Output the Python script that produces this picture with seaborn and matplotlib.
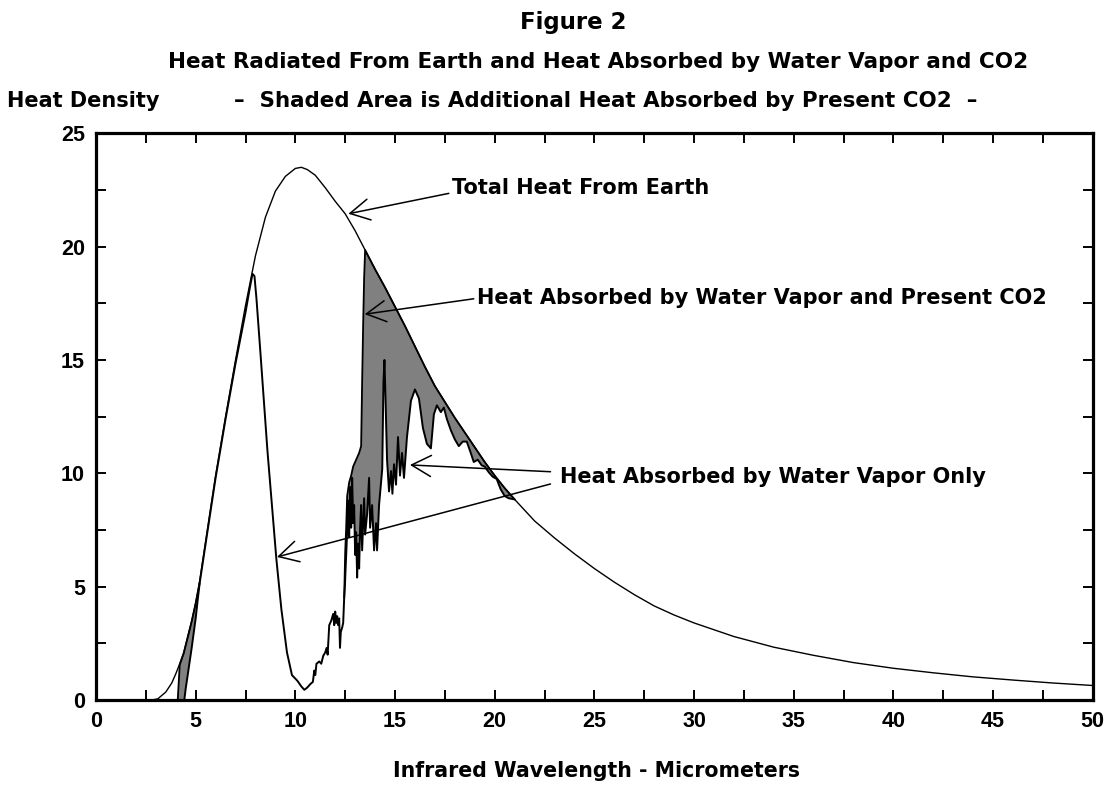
import numpy as np
import matplotlib
matplotlib.use("Agg")
import matplotlib.pyplot as plt
from matplotlib.ticker import MultipleLocator
import seaborn as sns

# ---------------- data ----------------
total_wl = [2.8, 3.1, 3.5, 3.8, 4.0, 4.2, 4.4, 4.6, 4.8, 5.0, 5.2, 5.5, 5.8, 6.0, 6.5,
            7.0, 7.5, 8.0, 8.5, 9.0, 9.5, 10.0, 10.3, 10.6, 11.0, 11.5, 12.0, 12.5, 13.0,
            13.5, 14.0, 14.5, 15.0, 15.5, 16.0, 16.5, 17.0, 17.5, 18.0, 18.5, 19.0, 19.5,
            20.0, 20.5, 21.0, 22.0, 23.0, 24.0, 25.0, 26.0, 27.0, 28.0, 29.0, 30.0, 32.0,
            34.0, 36.0, 38.0, 40.0, 42.0, 44.0, 46.0, 48.0, 50.0]
total_heat = [0.0, 0.05, 0.35, 0.75, 1.15, 1.6, 2.1, 2.8, 3.5, 4.3, 5.25, 7.0, 8.75, 9.9, 12.5,
              15.0, 17.4, 19.6, 21.3, 22.45, 23.1, 23.45, 23.5, 23.4, 23.15, 22.6, 22.0, 21.45, 20.7,
              19.85, 19.0, 18.2, 17.35, 16.5, 15.6, 14.7, 13.85, 13.15, 12.45, 11.8, 11.15, 10.5,
              9.9, 9.35, 8.85, 7.9, 7.15, 6.45, 5.8, 5.2, 4.65, 4.15, 3.75, 3.4, 2.8,
              2.33, 1.97, 1.65, 1.4, 1.2, 1.02, 0.88, 0.75, 0.64]

# heat absorbed by water vapor only
h2o_wl = [4.43, 4.5, 4.6, 4.8, 5.0, 5.1, 5.2, 5.5, 6.0, 6.5, 7.0, 7.5, 7.7, 7.85, 7.95, 8.05,
          8.25, 8.6, 9.05, 9.3, 9.58, 9.83, 10.1, 10.3, 10.45, 10.6, 10.75, 10.88, 10.95, 11.0,
          11.06, 11.2, 11.3, 11.4, 11.5, 11.57, 11.62, 11.7, 11.8, 11.9, 11.95, 12.0, 12.05,
          12.1, 12.15, 12.2, 12.24, 12.28, 12.35, 12.4, 12.45, 12.49, 12.53, 12.57, 12.62,
          12.65, 12.7, 12.75, 12.8, 12.85, 12.9, 12.95, 13.0, 13.05, 13.1, 13.15, 13.2, 13.25,
          13.3, 13.35, 13.45, 13.5, 13.6, 13.7, 13.75, 13.85, 13.95, 14.05, 14.1, 14.2, 14.3,
          14.36, 14.42, 14.47, 14.52, 14.6, 14.7, 14.8, 14.87, 14.95, 15.05, 15.15, 15.25,
          15.35, 15.45, 15.6, 15.8, 16.0, 16.2, 16.4, 16.6, 16.8, 16.95, 17.1, 17.3, 17.45,
          17.6, 17.8, 18.0, 18.2, 18.4, 18.6, 18.8, 18.95, 19.15, 19.35, 19.5, 19.7, 19.9,
          20.1, 20.3, 20.5, 20.7, 21.0]
h2o_heat = [0.0, 0.5, 1.1, 2.3, 3.6, 4.4, 5.15, 6.9, 9.8, 12.4, 14.85, 17.1, 18.1, 18.8, 18.7, 17.7,
            15.3, 11.0, 6.2, 4.0, 2.1, 1.1, 0.85, 0.6, 0.45, 0.55, 0.7, 0.8, 1.3, 1.1,
            1.6, 1.7, 1.6, 1.95, 2.1, 2.3, 2.0, 3.3, 3.5, 3.8, 3.3, 3.9, 3.4,
            3.7, 3.3, 3.6, 2.3, 3.0, 3.2, 3.4, 4.5, 5.1, 6.0, 6.8, 8.0,
            8.8, 7.2, 9.4, 7.6, 9.8, 7.8, 8.6, 6.4, 7.4, 5.4, 6.9, 5.8, 7.6,
            8.6, 6.6, 8.9, 7.3, 8.2, 9.8, 7.6, 8.6, 6.6, 7.8, 6.6, 8.6, 9.6,
            10.2, 14.0, 15.0, 13.4, 10.6, 9.2, 10.1, 9.1, 10.4, 9.5, 11.6, 9.9,
            10.9, 9.8, 11.6, 13.2, 13.7, 13.3, 12.0, 11.3, 11.1, 12.6, 13.0, 12.7, 12.9,
            12.4, 11.9, 11.5, 11.2, 11.4, 11.4, 10.9, 10.5, 10.6, 10.35, 10.3, 10.05, 9.85,
            9.75, 9.3, 9.0, 8.9, 8.85]

# heat absorbed by water vapor and present CO2 (where it differs from water vapor only)
co2_band1_wl = [4.10, 4.2, 4.4, 4.6, 4.8, 5.0, 5.2]
co2_band1_heat = [0.0, 1.55, 2.05, 2.75, 3.45, 4.25, 5.15]
co2_band2_wl = [12.45, 12.5, 12.55, 12.6, 12.7, 12.8, 12.9, 13.0, 13.1, 13.2, 13.3, 13.35, 13.4,
                13.45, 13.5, 14.0, 14.5, 15.0, 15.5, 16.0, 16.5, 17.0, 17.5, 18.0, 18.5, 19.0,
                19.5, 20.0, 20.5, 21.0]
co2_band2_heat = [4.5, 6.5, 7.6, 9.0, 9.6, 9.9, 10.3, 10.5, 10.7, 10.9, 11.2, 14.0, 16.5,
                  18.6, 19.85, 19.0, 18.2, 17.35, 16.5, 15.6, 14.7, 13.85, 13.15, 12.45, 11.8, 11.15,
                  10.5, 9.9, 9.35, 8.85]

x_ticks = [0, 5, 10, 15, 20, 25, 30, 35, 40, 45, 50]
y_ticks = [0, 5, 10, 15, 20, 25]

title_text = "Figure 2"
subtitle_text = "Heat Radiated From Earth and Heat Absorbed by Water Vapor and CO2"
ylabel_text = "Heat Density"
note_text = "\u2013  Shaded Area is Additional Heat Absorbed by Present CO2  \u2013"
xlabel_text = "Infrared Wavelength - Micrometers"
lab_total = "Total Heat From Earth"
lab_both = "Heat Absorbed by Water Vapor and Present CO2"
lab_h2o = "Heat Absorbed by Water Vapor Only"

# ---------------- style ----------------
sns.set_style("white")
plt.rcParams["font.family"] = ["DejaVu Sans"]
TXT = dict(family=["DejaVu Sans"], weight="bold", color="black")
TICKFONT = ["Liberation Sans", "DejaVu Sans"]

W, H = 1112, 786
fig = plt.figure(figsize=(W / 100, H / 100), dpi=100)
ax = fig.add_axes([96 / W, 1 - 700 / H, (1092.7 - 96) / W, (700 - 133.3) / H])

# ---------------- shading ----------------
h2o_wl_a = np.array(h2o_wl)
h2o_heat_a = np.array(h2o_heat)
for bx, by in [(co2_band1_wl, co2_band1_heat), (co2_band2_wl, co2_band2_heat)]:
    m = (h2o_wl_a >= bx[0]) & (h2o_wl_a <= bx[-1])
    px = np.r_[bx, h2o_wl_a[m][::-1]]
    py = np.r_[by, h2o_heat_a[m][::-1]]
    ax.fill(px, py, color="#808080", lw=0, zorder=1)

# ---------------- lines ----------------
sns.lineplot(x=co2_band1_wl, y=co2_band1_heat, ax=ax, color="black", lw=1.3,
             sort=False, estimator=None, zorder=3)
sns.lineplot(x=co2_band2_wl, y=co2_band2_heat, ax=ax, color="black", lw=1.3,
             sort=False, estimator=None, zorder=3)
sns.lineplot(x=h2o_wl, y=h2o_heat, ax=ax, color="black", lw=1.4,
             sort=False, estimator=None, zorder=3)
sns.lineplot(x=total_wl, y=total_heat, ax=ax, color="black", lw=1.0,
             sort=False, estimator=None, zorder=4)

# ---------------- axes ----------------
ax.set_xlim(0, 50)
ax.set_ylim(0, 25)
ax.set_xticks(x_ticks)
ax.set_yticks(y_ticks)
ax.xaxis.set_minor_locator(MultipleLocator(2.5))
ax.yaxis.set_minor_locator(MultipleLocator(2.5))
ax.set_xticklabels([str(v) for v in x_ticks])
ax.set_yticklabels([str(v) for v in y_ticks])
ax.tick_params(which="both", direction="in", length=7.2, width=1.4,
               top=True, right=True, bottom=True, left=True, colors="black")
ax.tick_params(axis="both", which="major", pad=8)
for lab in ax.get_xticklabels() + ax.get_yticklabels():
    lab.set_fontfamily(TICKFONT)
    lab.set_fontweight("bold")
    lab.set_fontsize(15.5)
for sp in ax.spines.values():
    sp.set_visible(True)
    sp.set_linewidth(2.3)
    sp.set_color("black")
ax.set_xlabel(xlabel_text, fontsize=14.8, **TXT)
ax.xaxis.set_label_coords(0.5017, -71 / 566.7)
ax.xaxis.label.set_verticalalignment("center")
ax.set_ylabel("")

# ---------------- annotations ----------------
ap = dict(arrowstyle="->,head_length=0.7,head_width=0.38", lw=1.1, color="black",
          shrinkA=0, shrinkB=0, mutation_scale=20)
ax.text(17.85, 22.6, lab_total, fontsize=15, ha="left", va="center", **TXT)
ax.annotate("", xy=(12.66, 21.45), xytext=(17.7, 22.35), arrowprops=ap)
ax.text(19.1, 17.73, lab_both, fontsize=15, ha="left", va="center", **TXT)
ax.annotate("", xy=(13.48, 17.02), xytext=(18.95, 17.7), arrowprops=ap)
ax.text(23.28, 9.84, lab_h2o, fontsize=15, ha="left", va="center", **TXT)
ax.annotate("", xy=(15.75, 10.37), xytext=(22.8, 10.07), arrowprops=ap)
ax.annotate("", xy=(9.08, 6.31), xytext=(22.8, 9.53), arrowprops=ap)

# ---------------- titles ----------------
fig.text(573 / W, 1 - 22 / H, title_text, ha="center", va="center", fontsize=16.5, **TXT)
fig.text(598 / W, 1 - 62 / H, subtitle_text, ha="center", va="center", fontsize=15.5, **TXT)
fig.text(7 / W, 1 - 101 / H, ylabel_text, ha="left", va="center", fontsize=15, **TXT)
fig.text(606 / W, 1 - 101 / H, note_text, ha="center", va="center", fontsize=15.4, **TXT)

fig.savefig("out.png", dpi=100, facecolor="white")
